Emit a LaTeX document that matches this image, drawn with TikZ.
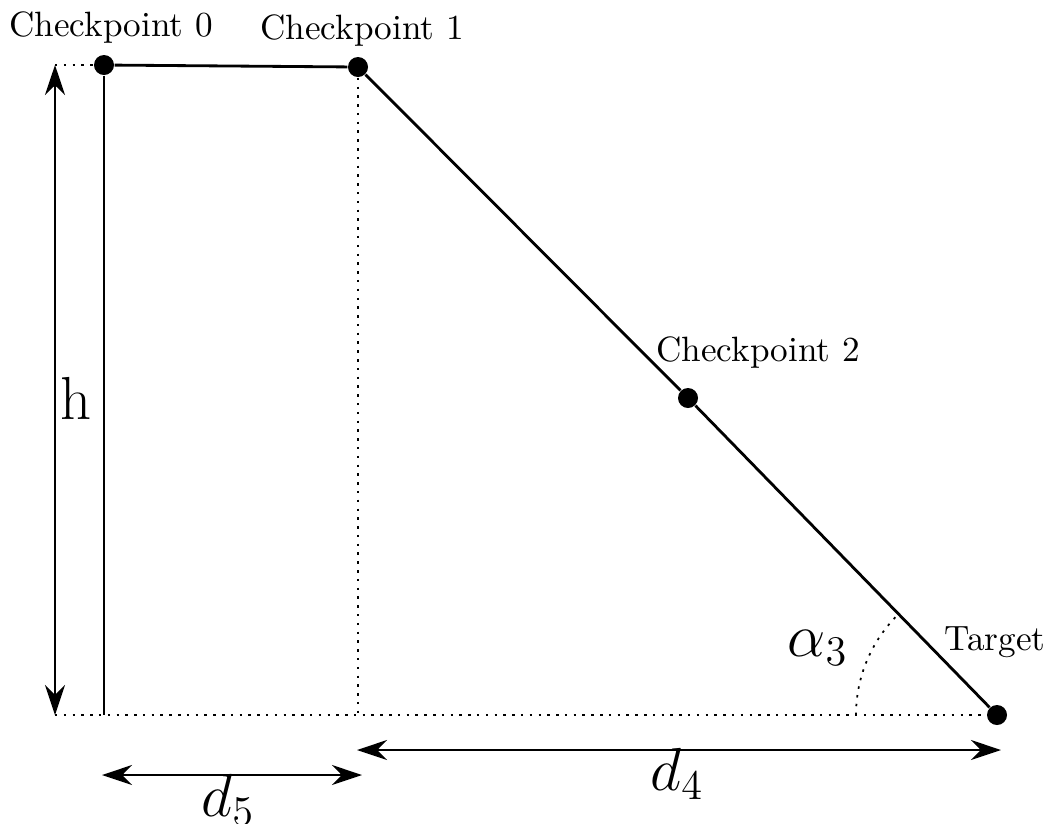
\documentclass[tikz,border=0pt]{standalone}
\usetikzlibrary{arrows.meta}
\begin{document}
\begin{tikzpicture}[x=0.01cm,y=-0.01cm,
  pt/.style={circle,fill=black,inner sep=0pt,minimum size=0.2cm},
  path/.style={line width=0.8pt},
  guide/.style={dash pattern=on 0.7pt off 1.8pt,line width=0.5pt},
  dim/.style={line width=0.6pt,{Stealth[length=0.3cm,width=0.2cm]}-{Stealth[length=0.3cm,width=0.2cm]}},
  lbl/.style={inner sep=0pt},
  big/.style={inner sep=0pt,font=\LARGE}]
\useasboundingbox (0,0) rectangle (1048,823);
\node[pt] (c0) at (104,65) {};
\node[pt] (c1) at (358,67) {};
\node[pt] (c2) at (688,398) {};
\node[pt] (t) at (997,715) {};
\coordinate (c0b) at (104,715);
\coordinate (c1b) at (358,715);
\coordinate (hl) at (55,65);
\coordinate (bl) at (55,715);
\coordinate (d5a) at (102,775);
\coordinate (d5b) at (362,775);
\coordinate (d4a) at (357,750);
\coordinate (d4b) at (1001,750);
% path
\draw[path] (c0) -- (c1) -- (c2) -- (t);
\draw[line width=0.6pt] (c0) -- (c0b);
% guides
\draw[guide] (hl) -- (c0);
\draw[guide] (c1) -- (c1b);
\draw[guide] (bl) -- (t);
\draw[guide] (t) ++(-141,0) arc[start angle=180,end angle=225.5,radius=141];
% dimensions
\draw[dim] (hl) -- (bl);
\draw[dim] (d5a) -- (d5b);
\draw[dim] (d4a) -- (d4b);
% labels
\node[lbl] (l0) at (111,27) {Checkpoint 0};
\node[lbl] (l1) at (362,31) {Checkpoint 1};
\node[lbl] (l2) at (758,352) {Checkpoint 2};
\node[lbl] (lt) at (995,642) {Target};
\node[big] (lh) at (76,398) {h};
\node[big] (ld5) at (228,800) {$d_5$};
\node[big] (ld4) at (677,774) {$d_4$};
\node[big] (la) at (818,648) {$\alpha_3$};
\end{tikzpicture}
\end{document}
